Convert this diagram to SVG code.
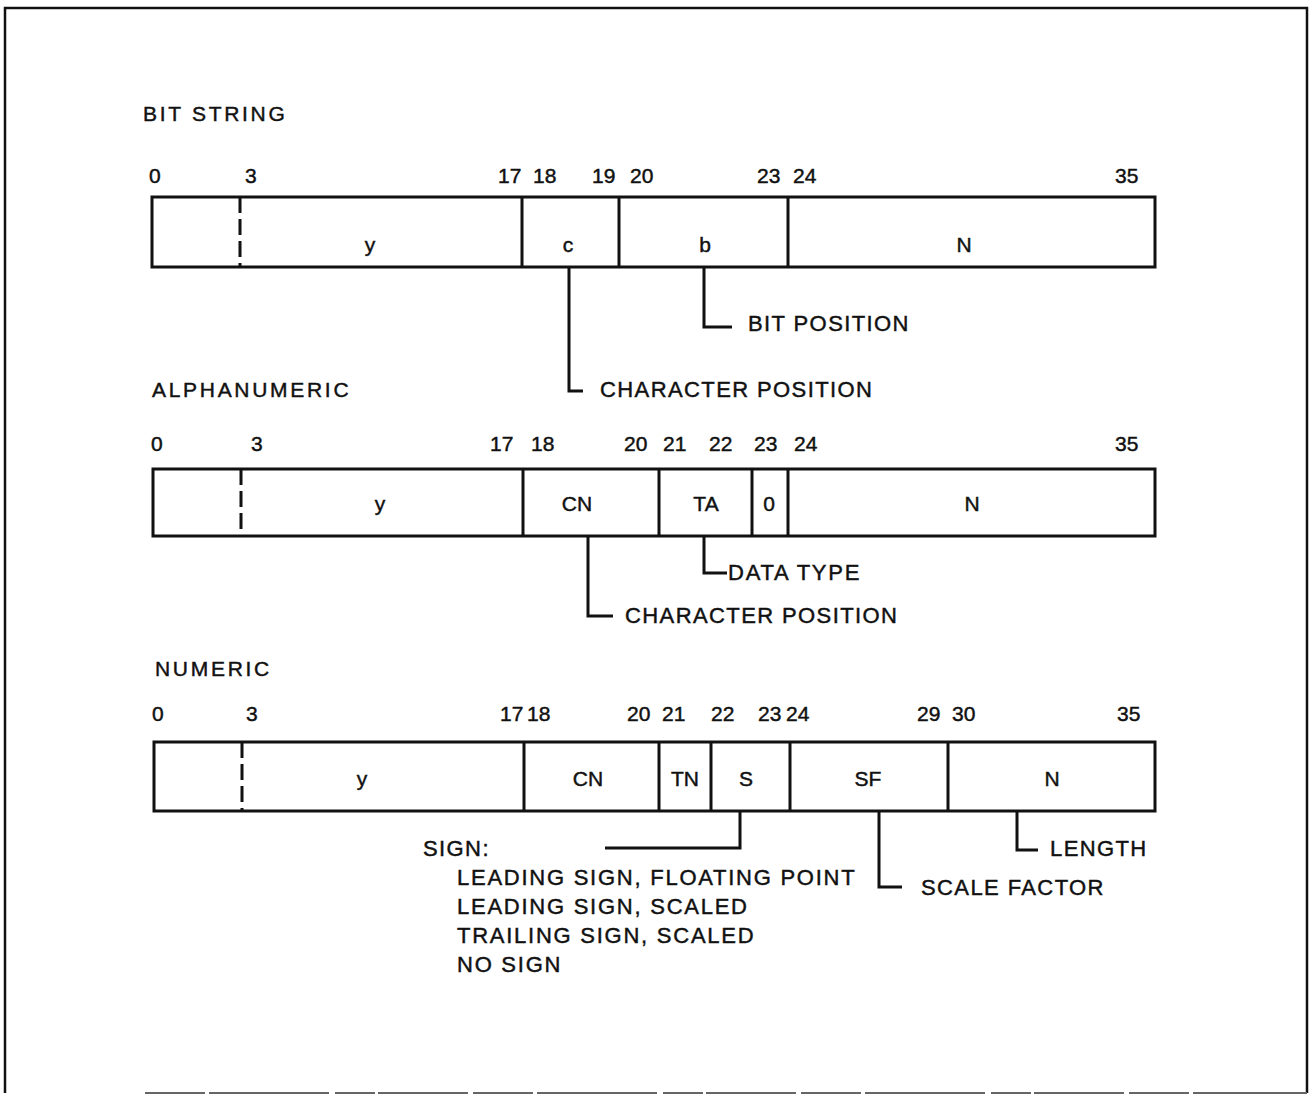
<svg xmlns="http://www.w3.org/2000/svg" width="1311" height="1095" viewBox="0 0 1311 1095">
<style>
  text { font-family: "Liberation Sans", Arial, sans-serif; fill: #111; stroke: #111; stroke-width: 0.45px; }
  .title { font-size: 21px; letter-spacing: 2.7px; }
  .num { font-size: 21px; }
  .fld { font-size: 21px; text-anchor: middle; }
  .lbl { font-size: 22px; letter-spacing: 1.4px; }
  .wide { letter-spacing: 1.75px; }
  .box { fill: none; stroke: #111; stroke-width: 3; }
  .div { stroke: #111; stroke-width: 3; }
  .dash { stroke: #111; stroke-width: 3; stroke-dasharray: 16 6; }
  .lead { fill: none; stroke: #111; stroke-width: 3; }
  .frame { fill: none; stroke: #111; stroke-width: 2.5; }
  .frame-bot { stroke: #666; stroke-width: 2; stroke-dasharray: 60 4 120 6 40 3 90 5; }
</style>
<rect width="1311" height="1095" fill="#fff"/>

<g id="frame">
  <polyline class="frame" points="5,1093 5,8 1307,8 1307,1093"/>
  <line class="frame-bot" x1="145" y1="1093" x2="1307" y2="1093"/>
</g>

<g id="titles">
  <text class="title" x="143" y="121">BIT STRING</text>
  <text class="title" x="152" y="397">ALPHANUMERIC</text>
  <text class="title" x="155" y="676">NUMERIC</text>
</g>

<g id="bit-string-word">
  <rect class="box" x="152" y="197" width="1003" height="70"/>
  <line class="dash" x1="240" y1="197" x2="240" y2="267"/>
  <line class="div" x1="522" y1="197" x2="522" y2="267"/>
  <line class="div" x1="619" y1="197" x2="619" y2="267"/>
  <line class="div" x1="788" y1="197" x2="788" y2="267"/>
  <text class="num" x="149" y="183">0</text>
  <text class="num" x="245" y="183">3</text>
  <text class="num" x="498" y="183">17</text>
  <text class="num" x="533" y="183">18</text>
  <text class="num" x="592" y="183">19</text>
  <text class="num" x="630" y="183">20</text>
  <text class="num" x="757" y="183">23</text>
  <text class="num" x="793" y="183">24</text>
  <text class="num" x="1115" y="183">35</text>
  <text class="fld" x="370" y="252">y</text>
  <text class="fld" x="568" y="252">c</text>
  <text class="fld" x="705" y="252">b</text>
  <text class="fld" x="964" y="252">N</text>
</g>

<g id="alphanumeric-word">
  <rect class="box" x="153" y="469" width="1002" height="67"/>
  <line class="dash" x1="241" y1="469" x2="241" y2="536"/>
  <line class="div" x1="523" y1="469" x2="523" y2="536"/>
  <line class="div" x1="659" y1="469" x2="659" y2="536"/>
  <line class="div" x1="752" y1="469" x2="752" y2="536"/>
  <line class="div" x1="788" y1="469" x2="788" y2="536"/>
  <text class="num" x="151" y="451">0</text>
  <text class="num" x="251" y="451">3</text>
  <text class="num" x="490" y="451">17</text>
  <text class="num" x="531" y="451">18</text>
  <text class="num" x="624" y="451">20</text>
  <text class="num" x="663" y="451">21</text>
  <text class="num" x="709" y="451">22</text>
  <text class="num" x="754" y="451">23</text>
  <text class="num" x="794" y="451">24</text>
  <text class="num" x="1115" y="451">35</text>
  <text class="fld" x="380" y="511">y</text>
  <text class="fld" x="577" y="511">CN</text>
  <text class="fld" x="706" y="511">TA</text>
  <text class="fld" x="769" y="511">0</text>
  <text class="fld" x="972" y="511">N</text>
</g>

<g id="numeric-word">
  <rect class="box" x="154" y="742" width="1001" height="69"/>
  <line class="dash" x1="242" y1="742" x2="242" y2="811"/>
  <line class="div" x1="524" y1="742" x2="524" y2="811"/>
  <line class="div" x1="659" y1="742" x2="659" y2="811"/>
  <line class="div" x1="711" y1="742" x2="711" y2="811"/>
  <line class="div" x1="790" y1="742" x2="790" y2="811"/>
  <line class="div" x1="948" y1="742" x2="948" y2="811"/>
  <text class="num" x="152" y="721">0</text>
  <text class="num" x="246" y="721">3</text>
  <text class="num" x="500" y="721">17</text>
  <text class="num" x="527" y="721">18</text>
  <text class="num" x="627" y="721">20</text>
  <text class="num" x="662" y="721">21</text>
  <text class="num" x="711" y="721">22</text>
  <text class="num" x="758" y="721">23</text>
  <text class="num" x="786" y="721">24</text>
  <text class="num" x="917" y="721">29</text>
  <text class="num" x="952" y="721">30</text>
  <text class="num" x="1117" y="721">35</text>
  <text class="fld" x="362" y="786">y</text>
  <text class="fld" x="588" y="786">CN</text>
  <text class="fld" x="685" y="786">TN</text>
  <text class="fld" x="746" y="786">S</text>
  <text class="fld" x="868" y="786">SF</text>
  <text class="fld" x="1052" y="786">N</text>
</g>

<g id="connectors">
  <path class="lead" d="M569,267 V391 H583"/>
  <path class="lead" d="M704,267 V327 H732"/>
  <path class="lead" d="M588,536 V616 H613"/>
  <path class="lead" d="M704,536 V573 H727"/>
  <path class="lead" d="M740,811 V848 H605"/>
  <path class="lead" d="M879,811 V887 H902"/>
  <path class="lead" d="M1017,811 V850 H1038"/>
</g>

<g id="labels">
  <text class="lbl" x="600" y="397">CHARACTER POSITION</text>
  <text class="lbl" x="748" y="331">BIT POSITION</text>
  <text class="lbl wide" x="728" y="580">DATA TYPE</text>
  <text class="lbl" x="625" y="623">CHARACTER POSITION</text>
  <text class="lbl" x="423" y="856">SIGN:</text>
  <text class="lbl wide" x="457" y="885">LEADING SIGN, FLOATING POINT</text>
  <text class="lbl wide" x="457" y="914">LEADING SIGN, SCALED</text>
  <text class="lbl wide" x="457" y="943">TRAILING SIGN, SCALED</text>
  <text class="lbl wide" x="457" y="972">NO SIGN</text>
  <text class="lbl" x="921" y="895">SCALE FACTOR</text>
  <text class="lbl" x="1050" y="856">LENGTH</text>
</g>
</svg>
